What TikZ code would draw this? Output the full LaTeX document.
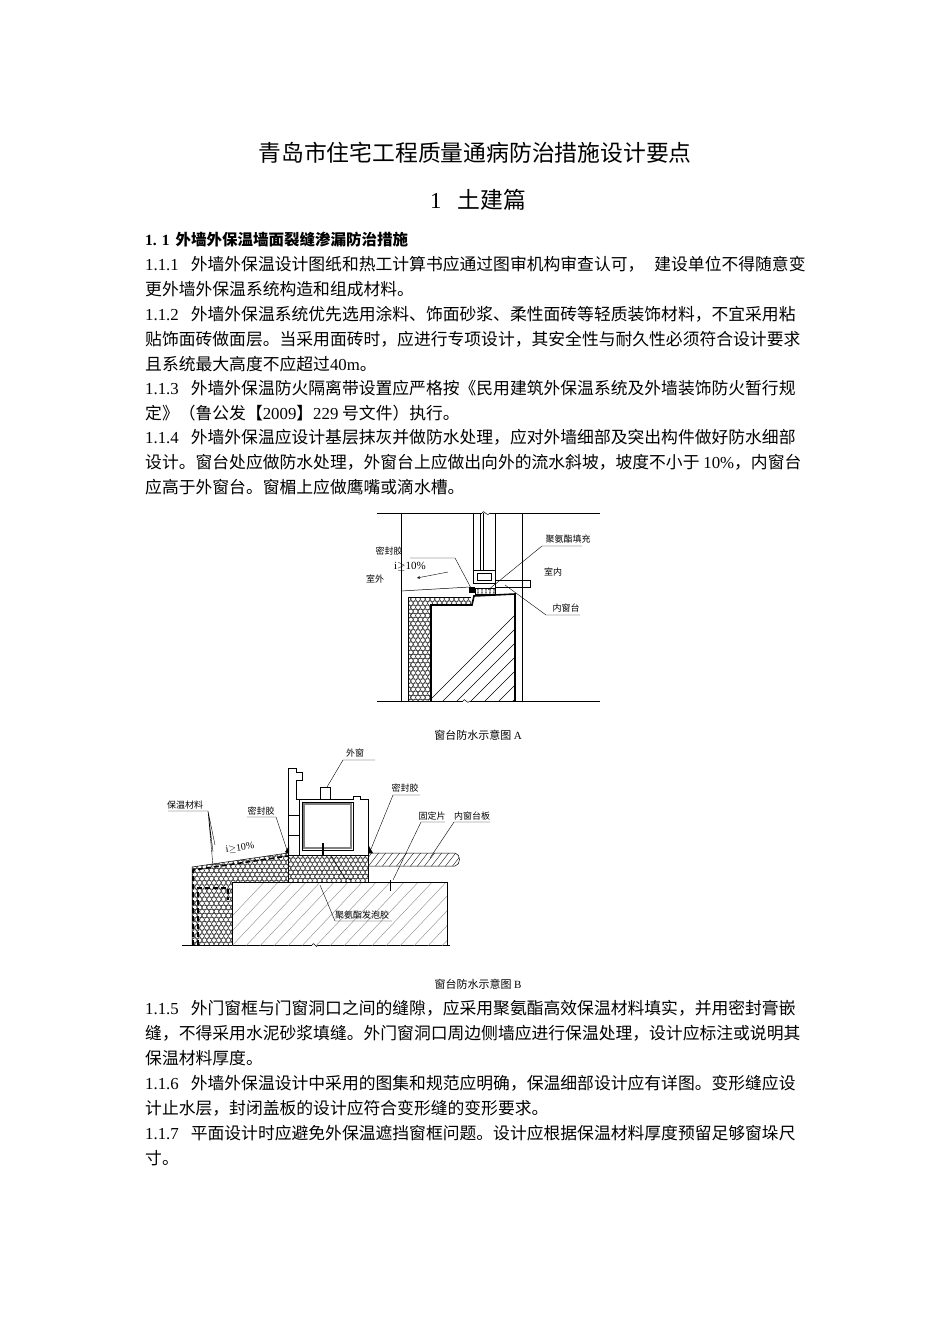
\documentclass[tikz,border=0pt]{standalone}
\usepackage{fontspec}
\setmainfont{Liberation Serif}
\newfontfamily\cjk{Noto Sans CJK SC}
\tikzset{
 tl/.style={anchor=base west,inner sep=0pt,font=\cjk\fontsize{16.8}{16.8}\selectfont},
 lab/.style={inner sep=0.5pt,font=\cjk\fontsize{9}{9}\selectfont},
 captext/.style={inner sep=0pt,font=\cjk\fontsize{11}{11}\selectfont},
 thn/.style={line width=0.5pt},
 bld/.style={line width=1.6pt},
 lead/.style={line width=0.4pt},
 hx/.style={line width=0.35pt}
}
\newcommand\lt[1]{{\rmfamily #1}}
\begin{document}
\begin{tikzpicture}[x=1pt,y=-1pt]
\useasboundingbox[fill=white] (0,0) rectangle (950,1344);
% titles
\node[inner sep=0pt,anchor=base,font=\cjk\fontsize{22.8}{22.8}\selectfont] (t1) at (475,161) {青岛市住宅工程质量通病防治措施设计要点};
\node[inner sep=0pt,anchor=base,font=\cjk\fontsize{22.8}{22.8}\selectfont] (t2) at (478,208) {\lt{1}\hspace{16pt}土建篇};
\node[tl,font=\cjk\bfseries\fontsize{15.5}{15.5}\selectfont] (h) at (145,245) {\lt{\textbf{1. 1}}\hspace{6pt}外墙外保温墙面裂缝渗漏防治措施};
\node[tl] (a1) at (145,270) {\lt{1.1.1}\hspace{12pt}外墙外保温设计图纸和热工计算书应通过图审机构审查认可，\hspace{10pt}建设单位不得随意变};
\node[tl] (a2) at (145,295) {更外墙外保温系统构造和组成材料。};
\node[tl] (b1) at (145,320) {\lt{1.1.2}\hspace{12pt}外墙外保温系统优先选用涂料、饰面砂浆、柔性面砖等轻质装饰材料，不宜采用粘};
\node[tl] (b2) at (145,345) {贴饰面砖做面层。当采用面砖时，应进行专项设计，其安全性与耐久性必须符合设计要求};
\node[tl] (b3) at (145,370) {且系统最大高度不应超过\lt{40m}。};
\node[tl] (c1) at (145,394) {\lt{1.1.3}\hspace{12pt}外墙外保温防火隔离带设置应严格按《民用建筑外保温系统及外墙装饰防火暂行规};
\node[tl] (c2) at (145,419) {定》（鲁公发【\lt{2009}】\lt{229} 号文件）执行。};
\node[tl] (d1) at (145,443) {\lt{1.1.4}\hspace{12pt}外墙外保温应设计基层抹灰并做防水处理，应对外墙细部及突出构件做好防水细部};
\node[tl] (d2) at (145,468) {设计。窗台处应做防水处理，外窗台上应做出向外的流水斜坡，坡度不小于 \lt{10\%}，内窗台};
\node[tl] (d3) at (145,493) {应高于外窗台。窗楣上应做鹰嘴或滴水槽。};
% ---------- Figure A ----------
\draw[thn] (377,513) -- (482,513) (490,513) -- (600,513);
\draw[thn] (482,513) .. controls (484,508) and (486,518) .. (490,513);
\draw[thn] (377,701) -- (463,701) (470,701) -- (600,701);
\draw[thn] (463,701) .. controls (465,696) and (467,706) .. (470,701);
\draw[thn] (401,513) -- (401,701) (522,513) -- (522,701);
\draw[thn] (473,513) -- (473,570) (495,513) -- (495,570) (480,513) -- (480,570) (483,513) -- (483,570);
\draw[thn] (473,570) rectangle (495,583);
\draw[thn] (477,573) rectangle (491,580);
\draw[thn] (401,591) -- (470,587);
\draw[thn] (495,580) rectangle (530,587);
% insulation
\begin{scope}
\clip (408,597) -- (471,597) -- (471,605) -- (431,605) -- (431,701) -- (408,701) -- cycle;
\foreach \x in {0,...,14}{\foreach \y in {0,...,26}{
 \pgfmathsetmacro\xx{406+4.8*\x+2.4*mod(\y,2)}
 \draw[hx] (\xx,595+4.1*\y) circle (2.3);}}
\end{scope}
\draw[thn] (408,701) -- (408,597) -- (471,597);
% concrete
\begin{scope}
\clip (431,605) -- (472,605) -- (474,596) -- (515,594) -- (515,701) -- (431,701) -- cycle;
\foreach \k in {0,...,14}{\draw[line width=0.4pt] (420+14*\k,710) -- (420+14*\k+120,590);}
\end{scope}
\draw[bld] (431,701) -- (431,605) -- (472,605) -- (474,596) -- (515,594) -- (515,701);
\fill (469,587) rectangle (475,593);
\draw[line width=0.3pt] (475,588) rectangle (495,594);
\foreach \x in {477,481,...,493}{\draw[line width=0.3pt] (\x,588)--(\x+2,594) (\x+2,588)--(\x,594);}
% labels A
\node[lab] (la1) at (389,551) {密封胶};
\node[lab,font=\rmfamily\fontsize{11}{11}\selectfont] (la2) at (410,567) {i$\geq$10\%};
\draw[lead,-stealth] (448,572) -- (417,578);
\draw[lead] (410,558) -- (455,558) -- (471,588);
\node[lab] (la3) at (375,579) {室外};
\node[lab] (la4) at (568,539) {聚氨酯填充};
\draw[lead] (542,546) -- (582,546) (542,546) -- (488,590);
\node[lab] (la5) at (553,572) {室内};
\node[lab] (la6) at (566,608) {内窗台};
\draw[lead] (546,615) -- (580,615) (546,615) -- (505,585);
\node[captext] (capA) at (478,735) {窗台防水示意图 \lt{A}};
% ---------- Figure B ----------
\draw[thn] (182,945) -- (312,945) (318,945) -- (450,945);
\draw[thn] (312,945) .. controls (314,940) and (316,950) .. (318,945);
% concrete block
\begin{scope}
\clip (232,882) rectangle (447,945);
\foreach \k in {0,...,20}{\draw[line width=0.35pt,gray] (200+14*\k,950) -- (200+14*\k+70,876);}
\end{scope}
\draw[thn] (232,945) -- (232,882) -- (447,882) -- (447,945);
% insulation
\begin{scope}
\clip (192,945) -- (192,867) -- (288,853) -- (288,882) -- (232,882) -- (232,945) -- cycle;
\foreach \x in {0,...,21}{\foreach \y in {0,...,24}{
 \pgfmathsetmacro\xx{190+4.8*\x+2.4*mod(\y,2)}
 \draw[hx] (\xx,850+4.1*\y) circle (2.3);}}
\end{scope}
\draw[thn] (192,945) -- (192,867) -- (288,853);
\draw[line width=1.6pt,dash pattern=on 5pt off 3pt] (193,945) -- (193,870) -- (288,856);
\draw[line width=1.6pt,dash pattern=on 5pt off 3pt] (198,945) -- (198,888) -- (228,888) -- (228,900);
% frame
\draw[thn] (288,882) -- (288,768) -- (296,768) -- (296,772) -- (302,772) -- (302,780) -- (296,780) -- (296,799) -- (353,799) -- (353,796) -- (360,796) -- (360,799) -- (368,799) -- (368,882);
\draw[thn] (299,799) -- (299,855) (288,815) -- (299,815) (288,835) -- (299,835);
\draw[thn] (302,802) rectangle (353,850);
\draw[line width=1.2pt,gray] (304,804) rectangle (351,848);
\draw[thn] (320,799) -- (320,787) -- (330,787) -- (330,799);
\draw[thn] (288,855) -- (368,855);
\begin{scope}
\clip (288,855) rectangle (368,882);
\foreach \x in {0,...,17}{\foreach \y in {0,...,7}{
 \pgfmathsetmacro\xx{286+4.8*\x+2.4*mod(\y,2)}
 \draw[hx] (\xx,856+4.1*\y) circle (2.3);}}
\end{scope}
\draw[line width=1.2pt] (323,843) -- (323,856);
\draw[thn] (330,855) -- (345,878) -- (352,880);
% sill board
\begin{scope}
\clip (368,853) -- (455,853) -- (460,858) -- (455,866) -- (368,866) -- cycle;
\foreach \k in {0,...,15}{\draw[line width=0.35pt] (360+7*\k,868) -- (360+7*\k+14,850);}
\end{scope}
\draw[thn] (368,853) -- (455,853) .. controls (461,854) and (461,865) .. (455,866) -- (368,866);
\fill (285,852) -- (289,846) -- (289,854) -- cycle;
\fill (369,846) -- (373,853) -- (369,853) -- cycle;
\draw[thn] (390,880) -- (390,891);
% labels B
\node[lab] (lb1) at (355,753) {外窗};
\draw[lead] (343,760) -- (375,760) (343,760) -- (327,787);
\node[lab] (lb2) at (185,805) {保温材料};
\draw[lead] (168,811) -- (208,811) -- (215,845) (208,811) -- (213,852) (208,811) -- (213,866);
\node[lab] (lb3) at (261,811) {密封胶};
\draw[lead] (247,817) -- (276,817) -- (287,850);
\node[lab] (lb4) at (405,788) {密封胶};
\draw[lead] (393,795) -- (420,795) (393,795) -- (371,849);
\node[lab] (lb5) at (432,816) {固定片};
\draw[lead] (421,822) -- (445,822) (421,822) -- (393,880);
\node[lab] (lb6) at (472,816) {内窗台板};
\draw[lead] (454,822) -- (490,822) (454,822) -- (430,858);
\node[lab,font=\rmfamily\fontsize{10}{10}\selectfont,rotate=8] (lb7) at (240,848) {i$\geq$10\%};
\node[lab] (lb8) at (362,915) {聚氨酯发泡胶};
\draw[lead] (335,921) -- (392,921) (335,921) -- (320,885);
\node[captext] (capB) at (478,984) {窗台防水示意图 \lt{B}};
% more text
\node[tl] (e1) at (145,1014) {\lt{1.1.5}\hspace{12pt}外门窗框与门窗洞口之间的缝隙，应采用聚氨酯高效保温材料填实，并用密封膏嵌};
\node[tl] (e2) at (145,1039) {缝，不得采用水泥砂浆填缝。外门窗洞口周边侧墙应进行保温处理，设计应标注或说明其};
\node[tl] (e3) at (145,1064) {保温材料厚度。};
\node[tl] (f1) at (145,1089) {\lt{1.1.6}\hspace{12pt}外墙外保温设计中采用的图集和规范应明确，保温细部设计应有详图。变形缝应设};
\node[tl] (f2) at (145,1114) {计止水层，封闭盖板的设计应符合变形缝的变形要求。};
\node[tl] (g1) at (145,1139) {\lt{1.1.7}\hspace{12pt}平面设计时应避免外保温遮挡窗框问题。设计应根据保温材料厚度预留足够窗垛尺};
\node[tl] (g2) at (145,1164) {寸。};
\end{tikzpicture}
\end{document}
